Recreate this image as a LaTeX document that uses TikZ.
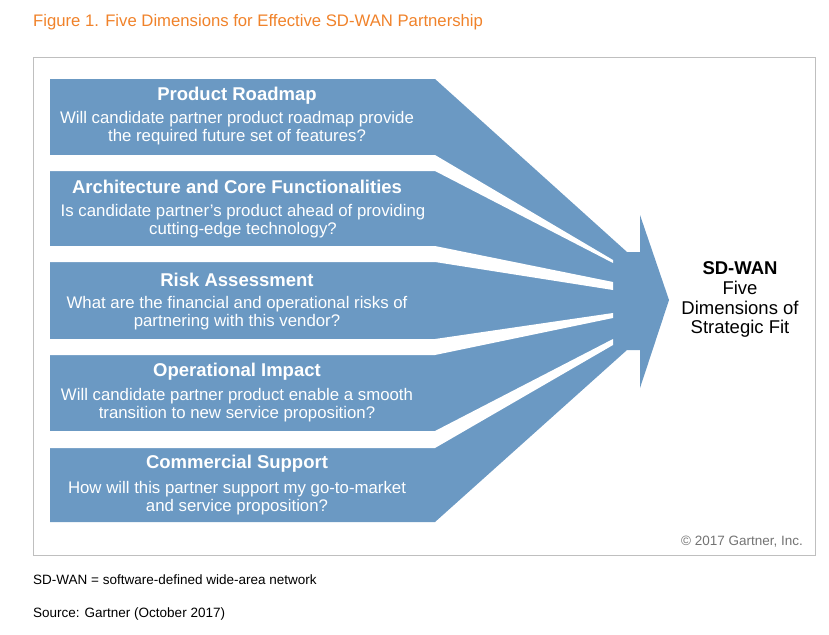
\documentclass[tikz,border=0pt]{standalone}
\usepackage{fontspec}
\setmainfont{Liberation Sans}
\definecolor{fitblue}{HTML}{6B99C3}
\definecolor{gartorange}{HTML}{F0822A}
\tikzset{
  headtext/.style={text=white,font=\bfseries\fontsize{18.5}{20}\selectfont},
  bodytext/.style={text=white,font=\fontsize{16.8}{18.5}\selectfont,align=center},
  notetext/.style={anchor=west,font=\fontsize{13.5}{15}\selectfont},
}
\begin{document}
\begin{tikzpicture}[x=1pt,y=-1pt,inner sep=0pt]
  \useasboundingbox (0,0) rectangle (829,634);
  % title and frame
  \node[anchor=west,text=gartorange,font=\fontsize{16.7}{18}\selectfont] (title) at (33,22) {Figure 1. Five Dimensions for Effective SD-WAN Partnership};
  \draw[black!25] (33,57) rectangle (815,555);
  % converging arrow
  \fill[fitblue] (50,79) -- (435,79) -- (627,252) -- (640,252) -- (640,215) -- (669,300)
    -- (640,388) -- (640,350) -- (627,350) -- (435,522) -- (50,522) -- cycle;
  \fill[white] (50,155) -- (435,155) -- (613,260) -- (613,263) -- (435,171) -- (50,171) -- cycle;
  \fill[white] (50,246) -- (435,246) -- (613,282) -- (613,290) -- (435,262) -- (50,262) -- cycle;
  \fill[white] (50,339) -- (435,339) -- (613,313) -- (613,318) -- (435,355) -- (50,355) -- cycle;
  \fill[white] (50,431) -- (435,431) -- (613,339) -- (613,345) -- (435,448) -- (50,448) -- cycle;
  % box texts
  \node[headtext] (roadmap) at (237,96) {Product Roadmap};
  \node[bodytext] (roadmapq) at (237,128) {Will candidate partner product roadmap provide\\the required future set of features?};
  \node[headtext] (arch) at (237,187) {Architecture and Core Functionalities};
  \node[bodytext] (archq) at (243,221) {Is candidate partner's product ahead of providing\\cutting-edge technology?};
  \node[headtext] (risk) at (237,280) {Risk Assessment};
  \node[bodytext] (riskq) at (237,313) {What are the financial and operational risks of\\partnering with this vendor?};
  \node[headtext] (impact) at (237,372) {Operational Impact};
  \node[bodytext] (impactq) at (237,405) {Will candidate partner product enable a smooth\\transition to new service proposition?};
  \node[headtext] (support) at (237,464) {Commercial Support};
  \node[bodytext] (supportq) at (237,498) {How will this partner support my go-to-market\\and service proposition?};
  % goal
  \node[font=\bfseries\fontsize{18.5}{20}\selectfont] (goal) at (740,268) {SD-WAN};
  \node[align=center,font=\fontsize{18.5}{19.5}\selectfont,anchor=north] (goalq) at (740,281) {Five\\Dimensions of\\Strategic Fit};
  \node[text=black!55,font=\fontsize{13.5}{15}\selectfont] (copy) at (742,542) {\textcopyright{} 2017 Gartner, Inc.};
  % notes
  \node[notetext] (abbr) at (33,580) {SD-WAN = software-defined wide-area network};
  \node[notetext] (source) at (33,614) {Source: Gartner (October 2017)};
\end{tikzpicture}
\end{document}
